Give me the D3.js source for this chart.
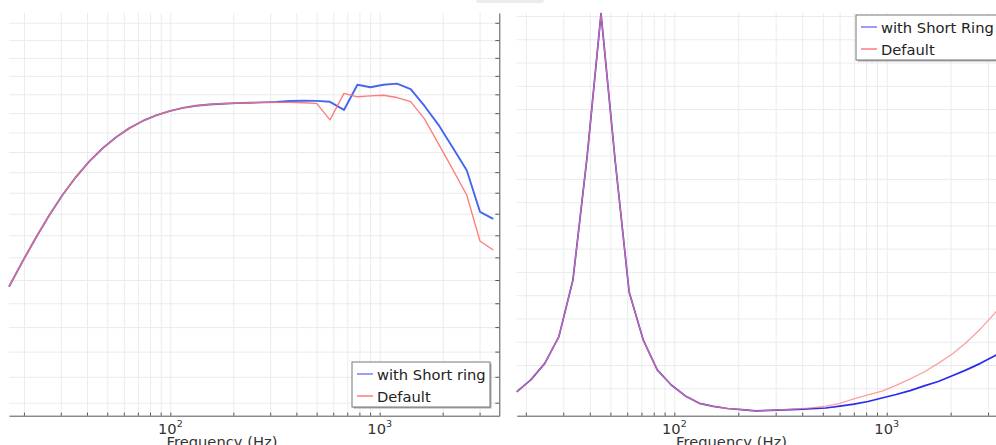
<!DOCTYPE html>
<html>
<head>
<meta charset="utf-8">
<script src="https://cdn.jsdelivr.net/npm/d3@7"></script>
<style>
  html, body { margin: 0; padding: 0; background: #fff; }
  svg { display: block; font-family: "DejaVu Sans", sans-serif; }
</style>
</head>
<body>
<div id="chart"></div>
<script>
// frequencies (Hz) of the solved points, left plot
const freqLeft = [16.97, 19.65, 22.77, 26.38, 30.56, 35.41, 41.02, 47.52, 55.05, 63.77,
  73.87, 85.58, 99.1, 114.8, 133.0, 154.1, 178.5, 206.8, 239.6, 277.5,
  321.5, 372.4, 431.4, 499.7, 579, 675, 783, 904, 1042, 1209,
  1406, 1637, 1909, 2239, 2604, 3013, 3487];
const shortRingLeft = [38.71, 39.80, 40.88, 41.92, 42.89, 43.76, 44.53, 45.19, 45.75, 46.22,
  46.59, 46.88, 47.11, 47.28, 47.39, 47.46, 47.50, 47.53, 47.55, 47.57,
  47.59, 47.64, 47.66, 47.65, 47.60, 47.17, 48.52, 48.38, 48.52, 48.58,
  48.28, 47.38, 46.39, 45.21, 44.09, 42.09, 41.76];
const defaultLeft = [38.71, 39.80, 40.88, 41.92, 42.89, 43.76, 44.53, 45.19, 45.75, 46.22,
  46.59, 46.88, 47.11, 47.28, 47.39, 47.46, 47.50, 47.53, 47.55, 47.57,
  47.57, 47.57, 47.55, 47.52, 46.65, 48.05, 47.87, 47.92, 47.95, 47.83,
  47.61, 46.70, 45.41, 44.11, 42.89, 40.74, 40.33];

// right plot
const freqRight = [18.11, 21.10, 24.56, 28.61, 33.31, 38.80, 45.18, 52.62, 61.27, 71.36,
  83.10, 96.76, 112.7, 131.2, 152.8, 177.9, 207.2, 241.3, 281.0, 327.3,
  381.1, 443.8, 516.8, 601.8, 700.9, 816.1, 950.4, 1107, 1289, 1501,
  1748, 2035, 2370, 2761, 3215, 3744];
const shortRingRight = [-0.16, 0.36, 1.07, 2.22, 4.65, 9.90, 16.10, 9.81, 4.14, 2.08,
  0.79, 0.14, -0.33, -0.65, -0.78, -0.87, -0.92, -0.97, -0.95, -0.93,
  -0.91, -0.88, -0.85, -0.77, -0.68, -0.57, -0.42, -0.27, -0.10, 0.10,
  0.29, 0.54, 0.79, 1.07, 1.39, 1.73];
const defaultRight = [-0.16, 0.36, 1.07, 2.22, 4.65, 9.90, 16.10, 9.81, 4.14, 2.08,
  0.79, 0.14, -0.33, -0.65, -0.78, -0.87, -0.92, -0.97, -0.95, -0.92,
  -0.89, -0.84, -0.77, -0.65, -0.46, -0.29, -0.12, 0.12, 0.40, 0.70,
  1.07, 1.47, 1.97, 2.55, 3.21, 3.92];

// ticks / grid
const freqTicks = [20, 30, 40, 50, 60, 70, 80, 90, 100, 200, 300, 400, 500, 600, 700, 800, 900, 1000, 2000, 3000];
const decadeTicks = [100, 1000];
const leftGridValues = [34, 35, 36, 37, 38, 39, 40, 41, 42, 43, 44, 45, 46, 47, 48, 49, 50, 51, 52];
const rightGridValues = [0, 1, 2, 3, 4, 5, 6, 7, 8, 9, 10, 11, 12, 13, 14, 15, 16];

const legendLeft = ['with Short ring', 'Default'];
const legendRight = ['with Short Ring', 'Default'];
const xTitle = 'Frequency (Hz)';

const W = 996, H = 445;
const plotTop = 13, plotBottom = 415.7;

const svg = d3.select('#chart').append('svg')
  .attr('width', W).attr('height', H);

// faint tab at the top edge of the screenshot
svg.append('rect').attr('x', 476).attr('y', -4).attr('width', 68).attr('height', 7)
  .attr('rx', 3).attr('fill', '#ececec');

function panel(opt) {
  const g = svg.append('g');
  const x = d3.scaleLog().domain(opt.xDomain).range([opt.left, opt.xEnd]);
  const y = opt.y;
  const id = 'clip' + opt.name;
  const right = Math.min(opt.xEnd, W);

  svg.append('defs').append('clipPath').attr('id', id)
    .append('rect').attr('x', opt.left - 1).attr('y', plotTop - 2)
    .attr('width', right - opt.left + 1).attr('height', plotBottom - plotTop + 2);

  // vertical grid
  g.append('g').attr('transform', `translate(0,${plotBottom})`)
    .call(d3.axisBottom(x).tickValues(freqTicks).tickSize(-(plotBottom - plotTop)).tickFormat(''))
    .call(s => s.select('.domain').remove())
    .call(s => s.selectAll('line').attr('stroke', '#ebebeb'));
  // horizontal grid
  g.append('g').attr('transform', `translate(${opt.left},0)`)
    .call(d3.axisRight(y).tickValues(opt.gridValues).tickSize(right - opt.left).tickFormat(''))
    .call(s => s.select('.domain').remove())
    .call(s => s.selectAll('line').attr('stroke', '#ebebeb'));

  // bottom axis, ticks inside
  g.append('g').attr('transform', `translate(0,${plotBottom})`)
    .call(d3.axisBottom(x).tickValues(freqTicks).tickSizeInner(-3).tickSizeOuter(0).tickFormat(''))
    .call(s => s.selectAll('line, path').attr('stroke', '#555'));

  // decade labels 10^n
  const lab = g.selectAll('text.dec').data(decadeTicks).join('text')
    .attr('class', 'dec')
    .attr('x', d => x(d)).attr('y', 433.5)
    .attr('text-anchor', 'middle').attr('fill', '#333').attr('font-size', 14.7);
  lab.append('tspan').text('10');
  lab.append('tspan').attr('dy', -6.8).attr('font-size', 9.5).text(d => Math.round(Math.log10(d)));

  g.append('text').attr('x', opt.titleX).attr('y', 446.5)
    .attr('text-anchor', 'middle').attr('fill', '#333').attr('font-size', 14.7)
    .text(xTitle);

  const line = d3.line().x((d, i) => x(opt.freq[i])).y(d => y(d));
  const lines = g.append('g').attr('clip-path', `url(#${id})`);
  lines.append('path').datum(opt.blue).attr('d', line)
    .attr('fill', 'none').attr('stroke', opt.blueColor).attr('stroke-width', opt.blueWidth)
    .attr('stroke-linejoin', 'round');
  lines.append('path').datum(opt.red).attr('d', line)
    .attr('fill', 'none').attr('stroke', opt.redColor).attr('stroke-width', 1.3)
    .attr('stroke-opacity', opt.redOpacity).attr('stroke-linejoin', 'round');

  // legend
  const L = opt.legend;
  const lg = svg.append('g').attr('transform', `translate(${L.x},${L.y})`);
  lg.append('rect').attr('x', 1.5).attr('y', 1.5).attr('width', L.w).attr('height', 45)
    .attr('fill', '#aaa');
  lg.append('rect').attr('width', L.w).attr('height', 45)
    .attr('fill', '#fff').attr('stroke', '#777');
  const rows = lg.selectAll('g').data(L.labels).join('g')
    .attr('transform', (d, i) => `translate(0,${12 + i * 22})`);
  rows.append('line').attr('x1', 5).attr('x2', 21)
    .attr('stroke', (d, i) => i === 0 ? '#7b7bff' : '#ff7b7b').attr('stroke-width', 1.5);
  rows.append('text').attr('x', 25).attr('y', 5.5)
    .attr('font-size', 14.7).attr('fill', '#222').text(d => d);
  return { x, y };
}

// left plot: log magnitude axis (no visible labels)
const yLeft = d3.scaleLog().domain([33.51, 52.57]).range([plotBottom, plotTop]);
panel({
  name: 'L', left: 9, xEnd: 499.3, xDomain: [16.97, 3726], y: yLeft,
  gridValues: leftGridValues, freq: freqLeft, blue: shortRingLeft, red: defaultLeft,
  blueColor: '#4466f0', blueWidth: 1.9, redColor: '#ff6b6b', redOpacity: 0.9,
  titleX: 222,
  legend: { x: 352, y: 362, w: 138, labels: legendLeft }
});

// right axis of the left plot, ticks inside
svg.append('g').attr('transform', 'translate(499.3,0)')
  .call(d3.axisLeft(yLeft).tickValues(leftGridValues).tickSizeInner(4).tickSizeOuter(0).tickFormat(''))
  .call(s => s.selectAll('line, path').attr('stroke', '#555'));

// right plot: linear axis
const yRight = d3.scaleLinear().domain([-1.18, 16.13]).range([plotBottom, plotTop]);
panel({
  name: 'R', left: 516.7, xEnd: 1008.5, xDomain: [18.11, 3744], y: yRight,
  gridValues: rightGridValues, freq: freqRight, blue: shortRingRight, red: defaultRight,
  blueColor: '#2a2af0', blueWidth: 1.7, redColor: '#ff7f7f', redOpacity: 0.75,
  titleX: 731.5,
  legend: { x: 856, y: 15, w: 143, labels: legendRight }
});
</script>
</body>
</html>
